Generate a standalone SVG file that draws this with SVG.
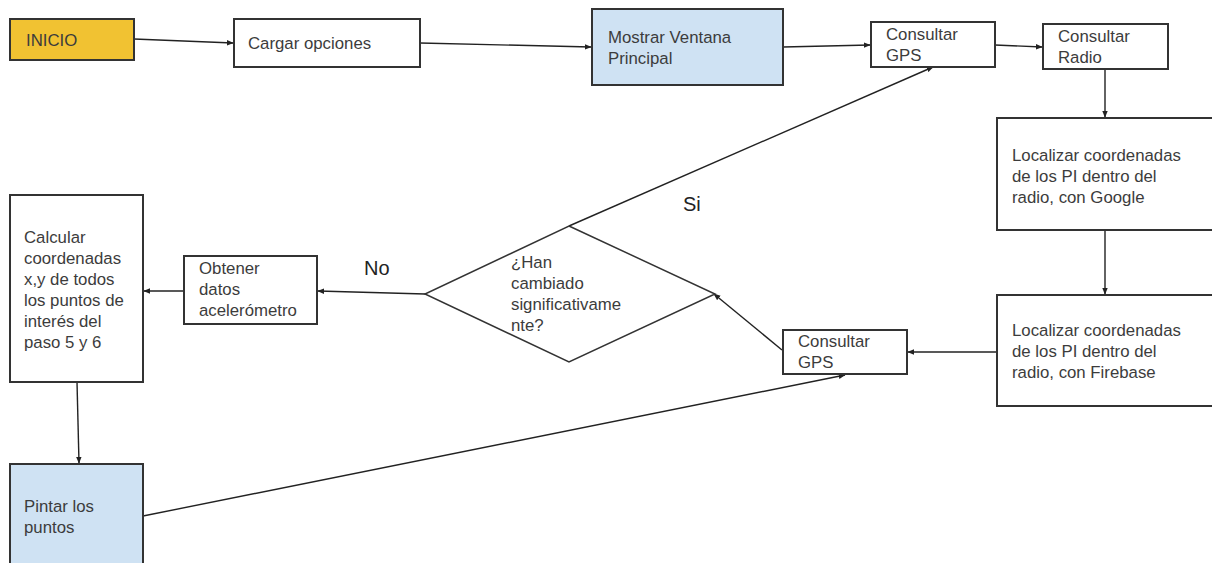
<svg xmlns="http://www.w3.org/2000/svg" width="1212" height="563" viewBox="0 0 1212 563">
<style>
.box{fill:#fff;stroke:#333;stroke-width:2}
.yel{fill:#f1c232}
.blue{fill:#cfe2f3}
.t{font-family:"Liberation Sans",Arial,sans-serif;font-size:16.8px;fill:#3c3c3c}
.lbl{font-family:"Liberation Sans",Arial,sans-serif;font-size:20px;fill:#222}
.c{fill:none;stroke:#222;stroke-width:1.4;marker-end:url(#ah)}
</style>
<defs>
<marker id="ah" viewBox="0 0 10 10" refX="9" refY="5" markerWidth="7" markerHeight="7" markerUnits="userSpaceOnUse" orient="auto">
<path d="M0,1 L10,5 L0,9 z" fill="#222"/>
</marker>
</defs>
<rect width="1212" height="563" fill="#fff"/>
<g id="connectors">
<line class="c" x1="134" y1="39" x2="233" y2="43"/>
<line class="c" x1="420" y1="43" x2="591" y2="47"/>
<line class="c" x1="783" y1="47" x2="870" y2="45"/>
<line class="c" x1="995" y1="45" x2="1042" y2="47"/>
<line class="c" x1="1105" y1="69" x2="1105" y2="117"/>
<line class="c" x1="1105" y1="230" x2="1105" y2="294"/>
<line class="c" x1="997" y1="352" x2="908" y2="352"/>
<line class="c" x1="782" y1="350" x2="714" y2="294"/>
<line class="c" x1="569" y1="226" x2="933" y2="67"/>
<line class="c" x1="425" y1="294" x2="318" y2="291"/>
<line class="c" x1="184" y1="291" x2="144" y2="291"/>
<line class="c" x1="77" y1="382" x2="79" y2="463"/>
<line class="c" x1="143" y1="516" x2="845" y2="375"/>
</g>
<g id="inicio"><rect class="box yel" x="10" y="19" width="124" height="41"/><text class="t" x="26" y="46">INICIO</text></g>
<g id="cargar"><rect class="box" x="234" y="19" width="186" height="48"/><text class="t" x="248" y="49">Cargar opciones</text></g>
<g id="mostrar"><rect class="box blue" x="592" y="9" width="191" height="76"/><text class="t" x="608" y="43">Mostrar Ventana</text><text class="t" x="608" y="64">Principal</text></g>
<g id="gps1"><rect class="box" x="871" y="22" width="124" height="45"/><text class="t" x="886" y="40">Consultar</text><text class="t" x="886" y="61">GPS</text></g>
<g id="radio"><rect class="box" x="1043" y="24" width="125" height="45"/><text class="t" x="1058" y="42">Consultar</text><text class="t" x="1058" y="63">Radio</text></g>
<g id="google"><rect class="box" x="997" y="118" width="218" height="112"/><text class="t" x="1012" y="161">Localizar coordenadas</text><text class="t" x="1012" y="182">de los PI dentro del</text><text class="t" x="1012" y="203">radio, con Google</text></g>
<g id="firebase"><rect class="box" x="997" y="295" width="218" height="111"/><text class="t" x="1012" y="336">Localizar coordenadas</text><text class="t" x="1012" y="357">de los PI dentro del</text><text class="t" x="1012" y="378">radio, con Firebase</text></g>
<g id="gps2"><rect class="box" x="783" y="330" width="124" height="44"/><text class="t" x="798" y="347">Consultar</text><text class="t" x="798" y="368">GPS</text></g>
<g id="decision"><polygon points="569,226 715,294 569,362 425,294" fill="#fff" stroke="#333" stroke-width="1.5"/><text class="t" x="511" y="268">¿Han</text><text class="t" x="511" y="289">cambiado</text><text class="t" x="511" y="310">significativame</text><text class="t" x="511" y="331">nte?</text></g>
<g id="obtener"><rect class="box" x="184" y="256" width="133" height="68"/><text class="t" x="199" y="274">Obtener</text><text class="t" x="199" y="295">datos</text><text class="t" x="199" y="316">acelerómetro</text></g>
<g id="calcular"><rect class="box" x="10" y="195" width="133" height="187"/><text class="t" x="24" y="243">Calcular</text><text class="t" x="24" y="264">coordenadas</text><text class="t" x="24" y="285">x,y de todos</text><text class="t" x="24" y="306">los puntos de</text><text class="t" x="24" y="327">interés del</text><text class="t" x="24" y="348">paso 5 y 6</text></g>
<g id="pintar"><rect class="box blue" x="10" y="464" width="133" height="110"/><text class="t" x="24" y="512">Pintar los</text><text class="t" x="24" y="533">puntos</text></g>
<g id="labels"><text class="lbl" x="683" y="211">Si</text><text class="lbl" x="364" y="275">No</text></g>
</svg>
